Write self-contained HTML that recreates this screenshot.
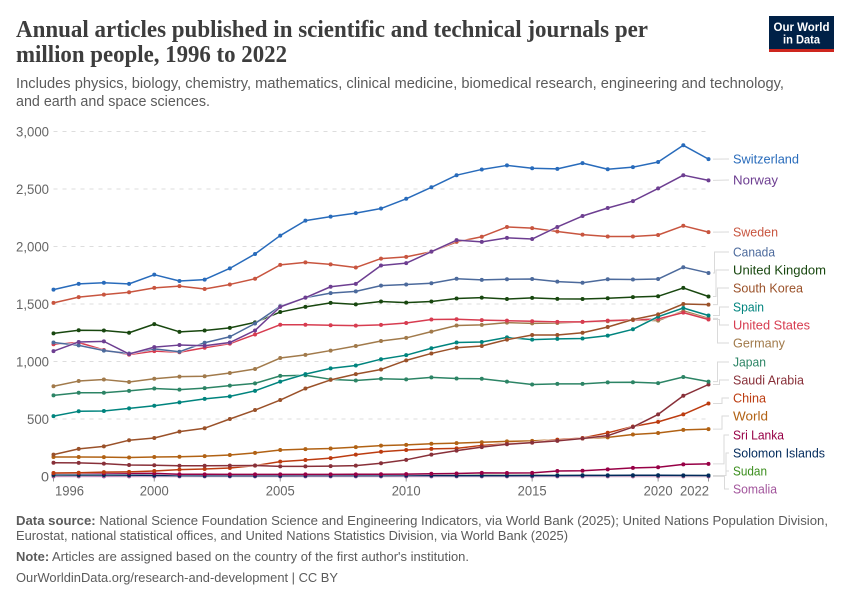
<!DOCTYPE html>
<html lang="en">
<head>
<meta charset="utf-8">
<title>Annual articles published in scientific and technical journals per million people</title>
<style>
html,body{margin:0;padding:0;background:#fff;}
svg{display:block;font-family:"Liberation Sans",sans-serif;}
</style>
</head>
<body>
<svg id="chart" xmlns="http://www.w3.org/2000/svg" width="850" height="600" viewBox="0 0 850 600">
  <rect x="0" y="0" width="850" height="600" fill="#fff"/>
  <g font-family="'Liberation Serif',serif" font-weight="700" font-size="24" fill="#3d3d3d">
    <text x="16" y="37" textLength="632" lengthAdjust="spacingAndGlyphs">Annual articles published in scientific and technical journals per</text>
    <text x="16" y="62" textLength="271" lengthAdjust="spacingAndGlyphs">million people, 1996 to 2022</text>
  </g>
  <g font-size="14.5" fill="#5b5b5b">
    <text x="16" y="88" textLength="768" lengthAdjust="spacingAndGlyphs">Includes physics, biology, chemistry, mathematics, clinical medicine, biomedical research, engineering and technology,</text>
    <text x="16" y="106" textLength="194" lengthAdjust="spacingAndGlyphs">and earth and space sciences.</text>
  </g>
  <g>
    <rect x="769" y="16" width="65" height="36" fill="#002147"/>
    <rect x="769" y="49" width="65" height="3" fill="#ce261e"/>
    <text x="801.5" y="31" text-anchor="middle" font-size="12" font-weight="700" fill="#fff" textLength="56" lengthAdjust="spacingAndGlyphs">Our World</text>
    <text x="801.5" y="43.5" text-anchor="middle" font-size="12" font-weight="700" fill="#fff" textLength="37" lengthAdjust="spacingAndGlyphs">in Data</text>
  </g>
  <g id="grid"></g>
  <g id="yaxis"></g>
  <g id="xaxis"></g>
  <g id="connectors"></g>
  <g id="series"></g>
  <g id="labels"></g>
  <g font-size="12.5" fill="#5b5b5b">
    <text x="16" y="525" textLength="812" lengthAdjust="spacingAndGlyphs"><tspan font-weight="700">Data source:</tspan> National Science Foundation Science and Engineering Indicators, via World Bank (2025); United Nations Population Division,</text>
    <text x="16" y="540" textLength="552" lengthAdjust="spacingAndGlyphs">Eurostat, national statistical offices, and United Nations Statistics Division, via World Bank (2025)</text>
    <text x="16" y="561" textLength="453" lengthAdjust="spacingAndGlyphs"><tspan font-weight="700">Note:</tspan> Articles are assigned based on the country of the first author's institution.</text>
    <text x="16" y="582" textLength="322" lengthAdjust="spacingAndGlyphs">OurWorldinData.org/research-and-development | CC BY</text>
  </g>
</svg>
<script>
const years = [1996,1997,1998,1999,2000,2001,2002,2003,2004,2005,2006,2007,2008,2009,2010,2011,2012,2013,2014,2015,2016,2017,2018,2019,2020,2021,2022];
const yTicks = [0,500,1000,1500,2000,2500,3000];
const yTickLabels = ["0","500","1,000","1,500","2,000","2,500","3,000"];
const xTicks = [1996,2000,2005,2010,2015,2020,2022];

const switzerland = [1625,1675,1685,1675,1755,1700,1712,1810,1935,2095,2225,2260,2290,2330,2415,2515,2620,2670,2705,2680,2675,2725,2672,2690,2735,2880,2760];
const norway = [1090,1170,1175,1065,1125,1143,1137,1165,1270,1475,1555,1650,1675,1835,1855,1955,2055,2040,2075,2065,2170,2265,2335,2395,2505,2620,2575];
const sweden = [1510,1560,1582,1602,1640,1655,1630,1670,1720,1840,1862,1845,1817,1895,1910,1955,2040,2085,2170,2160,2130,2103,2087,2087,2100,2180,2125];
const canada = [1165,1140,1095,1070,1110,1085,1163,1215,1330,1480,1555,1595,1610,1660,1670,1680,1720,1710,1715,1717,1695,1685,1715,1713,1717,1820,1770];
const unitedKingdom = [1245,1272,1270,1250,1325,1258,1270,1292,1340,1430,1475,1510,1497,1522,1512,1522,1548,1555,1543,1553,1545,1543,1550,1560,1567,1640,1565];
const southKorea = [190,240,262,315,335,390,420,500,578,665,765,840,890,930,1010,1070,1120,1135,1190,1230,1230,1250,1300,1365,1410,1500,1495];
const spain = [525,567,570,592,615,645,675,697,745,825,890,940,965,1020,1055,1115,1165,1170,1210,1190,1197,1200,1225,1280,1390,1465,1400];
const unitedStates = [1150,1165,1100,1060,1090,1080,1120,1155,1235,1320,1320,1315,1312,1318,1335,1365,1367,1360,1355,1350,1345,1345,1355,1362,1370,1425,1365];
const germany = [785,830,843,822,850,868,872,900,935,1030,1058,1095,1135,1178,1205,1260,1313,1318,1338,1332,1335,1345,1350,1360,1355,1440,1375];
const japan = [705,728,728,745,765,755,768,790,810,875,880,845,835,850,845,862,852,850,825,800,805,805,818,820,812,865,825];
const saudiArabia = [120,118,112,100,98,94,93,95,96,88,88,90,95,115,145,190,225,255,280,295,310,330,355,430,540,702,800];
const china = [30,33,38,40,48,60,65,74,95,129,143,160,190,215,230,240,245,270,285,295,320,335,380,435,475,540,635];
const world = [170,170,168,165,170,172,177,187,205,230,238,243,255,268,275,285,290,298,305,310,320,330,340,365,378,405,412];
const sriLanka = [28,28,28,28,27,20,19,18,18,18,18,18,19,20,21,24,26,32,30,32,48,50,62,75,80,105,110];
const solomonIslands = [14,13,13,12,10,8,7,7,7,7,8,8,8,8,9,9,8,8,8,9,9,10,10,11,11,10,9];
const sudan = [12,11,13,12,11,10,10,10,12,12,13,14,14,14,13,14,13,13,12,12,11,11,10,10,10,9,9];
const somalia = [1,1,1,1,1,1,1,1,1,1,1,1,1,1,1,1,1,1,1,1,1,1,1,1,1,1,1];

const seriesNames = ["Switzerland","Norway","Sweden","Canada","United Kingdom","South Korea","Spain","United States","Germany","Japan","Saudi Arabia","China","World","Sri Lanka","Solomon Islands","Sudan","Somalia"];
const seriesValues = [switzerland,norway,sweden,canada,unitedKingdom,southKorea,spain,unitedStates,germany,japan,saudiArabia,china,world,sriLanka,solomonIslands,sudan,somalia];

/* styling and label layout (not data) */
const seriesColors = ["#286bbb","#6d3e91","#c8553f","#4c6a9c","#18470f","#9a5129","#00847e","#d73c50","#a17a4b","#2c8465","#883039","#bc3c10","#b16214","#970046","#00295b","#3b8e1d","#a2559c"];
const labelCenters = [159,180,232,252,270,288,307,325,343,362,380,398,416,435,453,471,489];
const labelWidths = [66,45,45,42,93,70,31,77,52,33,71,33,35,51,92,34,44];
const elbowXs = [0,0,0,714.5,716,717.5,719.5,719.5,717.5,717.5,719.5,722,722,724,726,726,724.5];

const SVG_NS = "http://www.w3.org/2000/svg";
const plotLeft = 53.5, plotRight = 708.5, plotBottom = 476.5, plotTop = 131.5;
function xScale(year){ return plotLeft + (year - years[0]) / (years[years.length-1] - years[0]) * (plotRight - plotLeft); }
function yScale(v){ return plotBottom - v / 3000 * (plotBottom - plotTop); }
function slug(s){ return s.toLowerCase().replace(/\s+/g,'-'); }
function make(tag, parent, attrs, text){
  const el = document.createElementNS(SVG_NS, tag);
  for (const k in attrs) el.setAttribute(k, attrs[k]);
  if (text !== undefined) el.textContent = text;
  parent.appendChild(el);
  return el;
}

const gridG = document.getElementById('grid');
const yAxisG = document.getElementById('yaxis');
const xAxisG = document.getElementById('xaxis');
const connG = document.getElementById('connectors');
const seriesG = document.getElementById('series');
const labelsG = document.getElementById('labels');

yTicks.forEach(function(t, i){
  if (t !== 0) {
    const g = make('line', gridG, {x1: plotLeft, x2: plotRight, y1: yScale(t), y2: yScale(t), stroke: '#dddddd', 'stroke-width': 1, 'stroke-dasharray': '4 5'});
    
    
  }
  const lab = make('text', yAxisG, {x: 49, y: yScale(t) + 5, 'text-anchor': 'end', 'font-size': 14, fill: '#666666', textLength: yTickLabels[i].length === 5 ? 33 : (yTickLabels[i].length === 3 ? 22 : 8), lengthAdjust: 'spacingAndGlyphs'}, yTickLabels[i]);
  
  
});

xTicks.forEach(function(yr){
  const tick = make('line', xAxisG, {x1: xScale(yr), x2: xScale(yr), y1: plotBottom, y2: plotBottom + 5, stroke: '#999999', 'stroke-width': 1});
  
  
  let anchor = 'middle', lx = xScale(yr);
  if (yr === years[0]) { anchor = 'start'; lx = xScale(yr) + 1.5; }
  if (yr === years[years.length-1]) { anchor = 'end'; lx = xScale(yr) + 0.5; }
  const lab = make('text', xAxisG, {x: lx, y: 495.5, 'text-anchor': anchor, 'font-size': 14, fill: '#666666', textLength: 29, lengthAdjust: 'spacingAndGlyphs'}, String(yr));
  
  
});

seriesNames.forEach(function(name, i){
  const vals = seriesValues[i];
  const endY = yScale(vals[vals.length-1]);
  const ly = labelCenters[i];
  const ex = elbowXs[i];
  const d = ex ? ('M713 ' + endY + 'H' + ex + 'V' + ly + 'H729') : ('M713 ' + endY + 'L729 ' + ly);
  const c = make('path', connG, {d: d, fill: 'none', stroke: '#dadada', 'stroke-width': 1});
  
  
  const t = make('text', labelsG, {x: 733, y: ly + 4.5, 'font-size': 13, fill: seriesColors[i], textLength: labelWidths[i], lengthAdjust: 'spacingAndGlyphs'}, name);
  
  
});

for (let i = seriesNames.length - 1; i >= 0; i--) {
  const name = seriesNames[i];
  const vals = seriesValues[i];
  const pts = vals.map(function(v, j){ return xScale(years[j]).toFixed(2) + ',' + yScale(v).toFixed(2); }).join(' ');
  const group = make('g', seriesG, {});
  
  
  const halo = make('polyline', group, {points: pts, fill: 'none', stroke: '#ffffff', 'stroke-width': 2.5, 'stroke-linejoin': 'round', opacity: 0.7});
  
  
  const line = make('polyline', group, {points: pts, fill: 'none', stroke: seriesColors[i], 'stroke-width': 1.5, 'stroke-linejoin': 'round'});
  
  
  vals.forEach(function(v, j){
    const p = make('circle', group, {cx: xScale(years[j]), cy: yScale(v), r: 2, fill: seriesColors[i]});
    
    
  });
}
</script>
</body>
</html>
